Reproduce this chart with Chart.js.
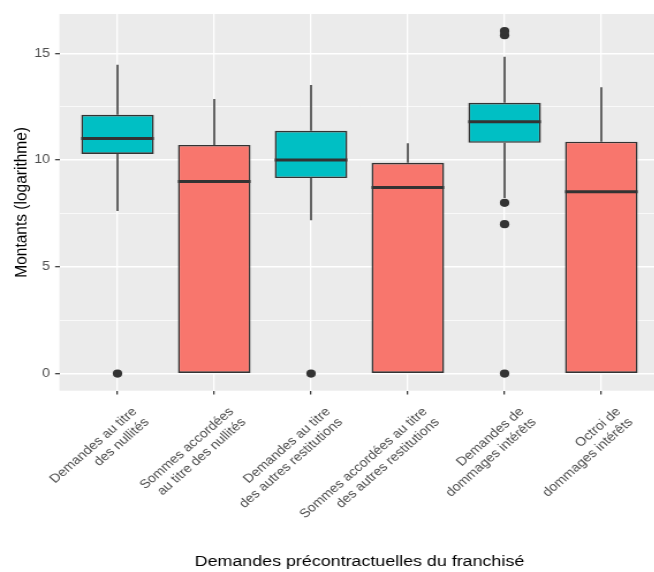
<!DOCTYPE html>
<html>
<head>
<meta charset="utf-8">
<script src="https://cdn.jsdelivr.net/npm/chart.js@4.4.1/dist/chart.umd.min.js"></script>
<style>
    html, body { margin: 0; padding: 0; background: #ffffff; overflow: hidden; }
    /* the reference picture is stretched sideways, so the chart is too */
    #wrap { width: 576.5px; height: 572px; transform: scaleX(1.15); transform-origin: 0 0; }
</style>
</head>
<body>
<div id="wrap"><canvas id="boxChart"></canvas></div>
<script>
// Data
const categories = [
    ['Demandes au titre', 'des nullités'],
    ['Sommes accordées', 'au titre des nullités'],
    ['Demandes au titre', 'des autres restitutions'],
    ['Sommes accordées au titre', 'des autres restitutions'],
    ['Demandes de', 'dommages intérêts'],
    ['Octroi de', 'dommages intérêts']
];
const groups = ['demande', 'octroi', 'demande', 'octroi', 'demande', 'octroi'];
const whiskerLow = [7.62, 0, 7.18, 0, 8.22, 0];
const q1 = [10.29, 0, 9.16, 0, 10.81, 0];
const median = [11.01, 9.0, 10.0, 8.72, 11.80, 8.52];
const q3 = [12.12, 10.71, 11.37, 9.87, 12.68, 10.86];
const whiskerHigh = [14.47, 12.86, 13.52, 10.79, 14.84, 13.41];
const outliers = [[0], [], [0], [], [0, 7.0, 8.0, 15.85, 16.04], []];
const yMajor = [0, 5, 10, 15];
const yMinor = [2.5, 7.5, 12.5];

const groupColors = { demande: '#00BFC4', octroi: '#F8766D' };
const ink = '#333333';
const font = "'Liberation Sans', Arial, sans-serif";

// ggplot style 5% expansion on y, 0.6 on the discrete x
const allValues = whiskerLow.concat(whiskerHigh, outliers.flat());
const yLo = Math.min(...allValues), yHi = Math.max(...allValues);
const yPad = (yHi - yLo) * 0.05;
const yTicks = yMajor.concat(yMinor).sort((a, b) => a - b);
const isMajor = v => yMajor.includes(v);

const boxData = categories.map((c, i) => ({ x: i, y: [q1[i], q3[i]] }));
const outlierData = [];
outliers.forEach((list, i) => list.forEach(v => outlierData.push({ x: i, y: v })));

const boxPlotExtras = {
    id: 'boxPlotExtras',
    beforeDraw(chart) {
        const { ctx, chartArea: a } = chart;
        ctx.save();
        ctx.fillStyle = '#EBEBEB';
        ctx.fillRect(a.left, a.top, a.right - a.left, a.bottom - a.top);
        ctx.restore();
    },
    beforeDatasetsDraw(chart) {
        const { ctx, scales: { x, y } } = chart;
        ctx.save();
        ctx.strokeStyle = ink;
        ctx.lineWidth = 1.5;
        categories.forEach((c, i) => {
            const px = x.getPixelForValue(i);
            ctx.beginPath();
            ctx.moveTo(px, y.getPixelForValue(q3[i]));
            ctx.lineTo(px, y.getPixelForValue(whiskerHigh[i]));
            if (whiskerLow[i] < q1[i]) {
                ctx.moveTo(px, y.getPixelForValue(q1[i]));
                ctx.lineTo(px, y.getPixelForValue(whiskerLow[i]));
            }
            ctx.stroke();
        });
        ctx.restore();
    },
    afterDatasetsDraw(chart) {
        const { ctx, scales: { y } } = chart;
        const bars = chart.getDatasetMeta(1).data;
        ctx.save();
        ctx.strokeStyle = ink;
        ctx.lineWidth = 3;
        bars.forEach((bar, i) => {
            const py = y.getPixelForValue(median[i]);
            ctx.beginPath();
            ctx.moveTo(bar.x - bar.width / 2, py);
            ctx.lineTo(bar.x + bar.width / 2, py);
            ctx.stroke();
        });
        ctx.restore();
    }
};

new Chart(document.getElementById('boxChart'), {
    type: 'bar',
    data: {
        datasets: [{
            type: 'scatter',
            data: outlierData,
            backgroundColor: ink,
            borderColor: ink,
            pointRadius: 4.1,
            pointBorderWidth: 0
        }, {
            data: boxData,
            backgroundColor: groups.map(g => groupColors[g]),
            borderColor: ink,
            borderWidth: 1.6,
            borderSkipped: false,
            categoryPercentage: 1,
            barPercentage: 0.75
        }]
    },
    options: {
        responsive: true,
        maintainAspectRatio: false,
        animation: false,
        layout: { padding: { top: 14, left: 0, right: 0, bottom: 0 } },
        plugins: {
            legend: { display: false },
            tooltip: { enabled: false }
        },
        scales: {
            x: {
                type: 'linear',
                offset: false,
                min: -0.6,
                max: categories.length - 0.4,
                afterBuildTicks: axis => { axis.ticks = categories.map((c, i) => ({ value: i })); },
                afterFit: axis => { axis.height = 181.3; },
                border: { display: false },
                grid: {
                    offset: false,
                    color: '#ffffff',
                    lineWidth: 1.3,
                    tickColor: ink,
                    tickLength: 3.8,
                    tickWidth: 1.2
                },
                ticks: {
                    autoSkip: false,
                    minRotation: 45,
                    maxRotation: 45,
                    padding: 10,
                    labelOffset: 15,
                    color: '#4D4D4D',
                    font: { family: font, size: 12.4 },
                    callback: v => categories[v]
                },
                title: {
                    display: true,
                    text: 'Demandes précontractuelles du franchisé',
                    color: '#000000',
                    font: { family: font, size: 15.5 },
                    padding: { top: 0, bottom: 1 }
                }
            },
            y: {
                min: yLo - yPad,
                max: yHi + yPad,
                afterBuildTicks: axis => { axis.ticks = yTicks.map(v => ({ value: v })); },
                afterFit: axis => { axis.width = 51.6; },
                border: { display: false },
                grid: {
                    color: '#ffffff',
                    lineWidth: c => isMajor(c.tick.value) ? 1.4 : 0.7,
                    tickColor: c => isMajor(c.tick.value) ? ink : 'rgba(0,0,0,0)',
                    tickLength: 3.8,
                    tickWidth: 1.2
                },
                ticks: {
                    padding: 4.3,
                    color: '#4D4D4D',
                    font: { family: font, size: 12.4 },
                    callback: v => isMajor(v) ? String(v) : ''
                },
                title: {
                    display: true,
                    text: 'Montants (logarithme)',
                    color: '#000000',
                    font: { family: font, size: 15.5 },
                    padding: { top: 9.8, bottom: 0 }
                }
            }
        }
    },
    plugins: [boxPlotExtras]
});
</script>
</body>
</html>
